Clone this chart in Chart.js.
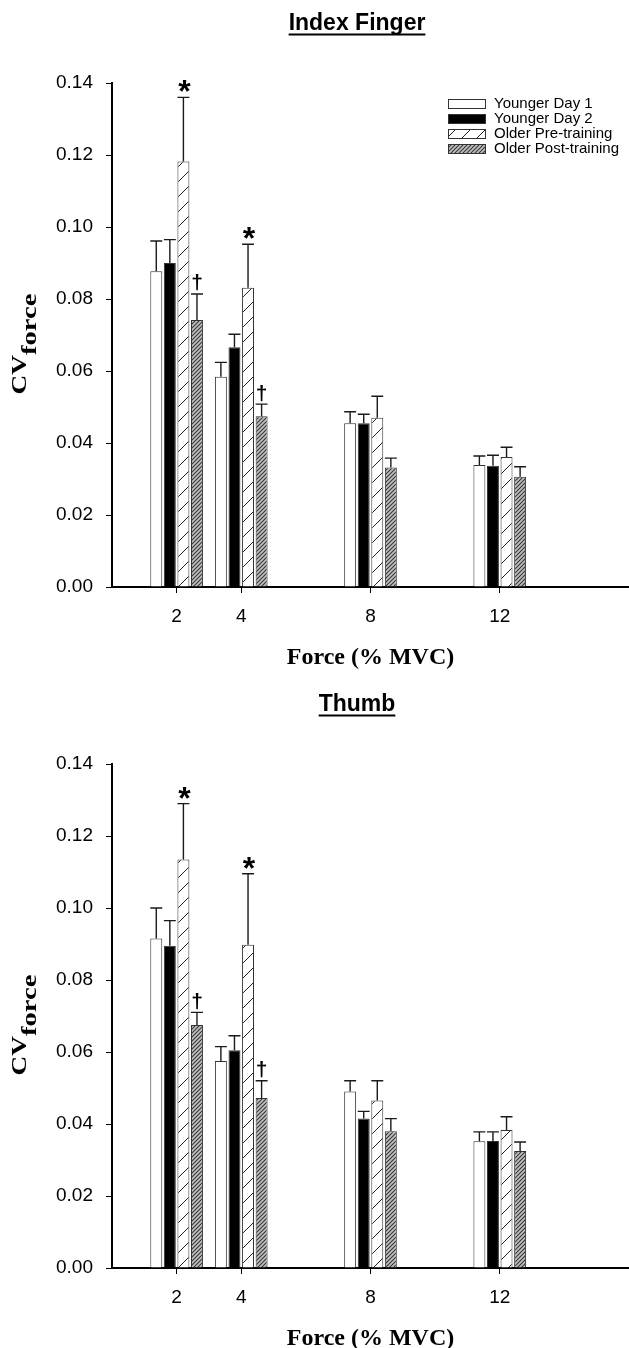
<!DOCTYPE html>
<html>
<head>
<meta charset="utf-8">
<script src="https://cdn.jsdelivr.net/npm/chart.js@4/dist/chart.umd.min.js"></script>
<style>
html,body{margin:0;padding:0;background:#fff;overflow:hidden;width:629px;height:1348px}
canvas{display:block}
</style>
</head>
<body>
<canvas id="c1" width="629" height="681"></canvas>
<canvas id="c2" width="629" height="681"></canvas>
<script>
// ---------- data ----------
const forceLevels = [2, 4, 8, 12];
const seriesNames = ['Younger Day 1', 'Younger Day 2', 'Older Pre-training', 'Older Post-training'];
const yTickValues = [0, 0.02, 0.04, 0.06, 0.08, 0.10, 0.12, 0.14];

// Index finger: means and SD (upper error bar length)
const indexYoungDay1   = [0.0877, 0.0584, 0.0455, 0.0339];
const indexYoungDay2   = [0.0900, 0.0666, 0.0455, 0.0337];
const indexOlderPre    = [0.1182, 0.0831, 0.0470, 0.0361];
const indexOlderPost   = [0.0742, 0.0474, 0.0332, 0.0306];
const indexYoungDay1SD = [0.0084, 0.0040, 0.0032, 0.0025];
const indexYoungDay2SD = [0.0065, 0.0036, 0.0025, 0.0029];
const indexOlderPreSD  = [0.0178, 0.0121, 0.0060, 0.0027];
const indexOlderPostSD = [0.0072, 0.0034, 0.0026, 0.0028];

// Thumb
const thumbYoungDay1   = [0.0915, 0.0575, 0.0490, 0.0352];
const thumbYoungDay2   = [0.0895, 0.0605, 0.0415, 0.0353];
const thumbOlderPre    = [0.1135, 0.0898, 0.0465, 0.0383];
const thumbOlderPost   = [0.0675, 0.0472, 0.0380, 0.0325];
const thumbYoungDay1SD = [0.0085, 0.0040, 0.0030, 0.0026];
const thumbYoungDay2SD = [0.0070, 0.0040, 0.0020, 0.0025];
const thumbOlderPreSD  = [0.0155, 0.0197, 0.0055, 0.0037];
const thumbOlderPostSD = [0.0035, 0.0048, 0.0035, 0.0025];

// significance marks: series index, force-level index, symbol
const indexMarks = [[2, 0, '*'], [2, 1, '*'], [3, 0, '\u2020'], [3, 1, '\u2020']];
const thumbMarks = [[2, 0, '*'], [2, 1, '*'], [3, 0, '\u2020'], [3, 1, '\u2020']];

// ---------- styles ----------
function hatch(size, bg, fg, lw) {
  const c = document.createElement('canvas');
  c.width = size; c.height = size;
  const g = c.getContext('2d');
  g.fillStyle = bg; g.fillRect(0, 0, size, size);
  g.strokeStyle = fg; g.lineWidth = lw;
  g.beginPath();
  g.moveTo(-1, size + 1); g.lineTo(size + 1, -1);
  g.moveTo(-1, 1); g.lineTo(1, -1);
  g.moveTo(size - 1, size + 1); g.lineTo(size + 1, size - 1);
  g.stroke();
  return g.createPattern(c, 'repeat');
}
const fills = ['#ffffff', '#000000', hatch(15, '#ffffff', '#222222', 1), hatch(4, '#c0c0c0', '#363636', 1.1)];
const SANS = "'Liberation Sans', Arial, sans-serif";
const SERIF = "'Liberation Serif', 'Times New Roman', serif";

function centerGlyph(ctx, txt, cx, cy) {
  const m = ctx.measureText(txt);
  const a = m.actualBoundingBoxAscent, d = m.actualBoundingBoxDescent;
  ctx.fillText(txt, cx, cy + (a - d) / 2);
}

function makePlugin(title, sds, marks, showLegend) {
  return {
    id: 'extras',
    afterDatasetsDraw(chart) {
      const ctx = chart.ctx, ys = chart.scales.y;
      ctx.save();
      // error bars
      chart.data.datasets.forEach((ds, i) => {
        const meta = chart.getDatasetMeta(i);
        meta.data.forEach((bar, j) => {
          const top = ys.getPixelForValue(ds.data[j].y + sds[i][j]);
          const half = bar.width / 2;
          ctx.strokeStyle = '#1a1a1a';
          ctx.lineWidth = 1.4;
          ctx.beginPath();
          ctx.moveTo(bar.x, bar.y);
          ctx.lineTo(bar.x, top);
          ctx.moveTo(bar.x - half, top);
          ctx.lineTo(bar.x + half, top);
          ctx.stroke();
        });
      });
      // significance marks
      ctx.fillStyle = '#000';
      ctx.textAlign = 'center';
      ctx.textBaseline = 'alphabetic';
      marks.forEach(([s, g, sym]) => {
        const bar = chart.getDatasetMeta(s).data[g];
        const top = ys.getPixelForValue(chart.data.datasets[s].data[g].y + sds[s][g]);
        if (sym === '*') {
          ctx.font = 'bold 32px ' + SANS;
          centerGlyph(ctx, sym, bar.x + 1, top - 11);
        } else {
          ctx.font = 'bold 21px ' + SANS;
          centerGlyph(ctx, sym, bar.x, top - 11);
        }
      });
      ctx.restore();
    },
    afterDraw(chart) {
      const ctx = chart.ctx, area = chart.chartArea;
      ctx.save();
      // panel title, underlined
      ctx.font = 'bold 23px ' + SANS;
      ctx.fillStyle = '#000';
      ctx.textAlign = 'center';
      ctx.textBaseline = 'middle';
      const tx = 357, ty = 24;
      ctx.fillText(title, tx, ty);
      const tw = ctx.measureText(title).width;
      ctx.fillRect(tx - tw / 2, ty + 9.5, tw, 2);
      // y axis title CV(force)
      ctx.translate(26, (area.top + area.bottom) / 2 + 9);
      ctx.rotate(-Math.PI / 2);
      ctx.scale(1.3, 1);
      ctx.textAlign = 'left';
      ctx.textBaseline = 'alphabetic';
      ctx.font = 'bold 21px ' + SERIF;
      const w1 = ctx.measureText('CV').width;
      ctx.font = 'bold 22px ' + SERIF;
      const w2 = ctx.measureText('force').width;
      const x0 = -(w1 + w2) / 2;
      ctx.font = 'bold 21px ' + SERIF;
      ctx.fillText('CV', x0, 0);
      ctx.font = 'bold 22px ' + SERIF;
      ctx.fillText('force', x0 + w1, 10);
      ctx.restore();
      // legend
      if (showLegend) {
        ctx.save();
        ctx.font = '15px ' + SANS;
        ctx.textBaseline = 'middle';
        ctx.textAlign = 'left';
        chart.data.datasets.forEach((ds, i) => {
          const cy = 104 + i * 15;
          ctx.fillStyle = ds.backgroundColor;
          ctx.fillRect(448, cy - 5, 38, 10);
          ctx.strokeStyle = '#333';
          ctx.lineWidth = 1;
          ctx.strokeRect(448.5, cy - 4.5, 37, 9);
          ctx.fillStyle = '#000';
          ctx.fillText(ds.label, 494, cy);
        });
        ctx.restore();
      }
    }
  };
}

function makeChart(id, series, sds, marks, title, showLegend) {
  const datasets = series.map((vals, i) => ({
    label: seriesNames[i],
    data: forceLevels.map((x, j) => ({ x: x, y: vals[j] })),
    backgroundColor: fills[i],
    borderColor: '#333333',
    borderWidth: 1,
    categoryPercentage: 0.84,
    barPercentage: 0.88
  }));
  return new Chart(document.getElementById(id), {
    type: 'bar',
    data: { datasets },
    options: {
      responsive: false,
      animation: false,
      events: [],
      layout: { padding: { top: 83, left: 0, right: 0, bottom: 0 } },
      plugins: { legend: { display: false }, tooltip: { enabled: false }, title: { display: false } },
      scales: {
        x: {
          type: 'linear', min: 0, max: 16, offset: false,
          afterBuildTicks: s => { s.ticks = forceLevels.map(v => ({ value: v })); },
          afterFit: s => { s.height = 681 - 587; },
          grid: { drawOnChartArea: false, drawTicks: true, tickLength: 6, color: '#000', lineWidth: 1, offset: false },
          border: { display: true, color: '#000', width: 2 },
          ticks: { color: '#000', font: { family: SANS, size: 19 }, padding: 12, maxRotation: 0, autoSkip: false },
          title: { display: true, text: 'Force (% MVC)', color: '#000', font: { family: SERIF, size: 24, weight: 'bold' }, padding: { top: 0, bottom: 9 } }
        },
        y: {
          min: 0, max: 0.14,
          afterBuildTicks: s => { s.ticks = yTickValues.map(v => ({ value: v })); },
          afterFit: s => { s.width = 112; },
          grid: { drawOnChartArea: false, drawTicks: true, tickLength: 6, color: '#000', lineWidth: 1 },
          border: { display: true, color: '#000', width: 2 },
          ticks: { color: '#000', font: { family: SANS, size: 19 }, padding: 13, callback: v => v.toFixed(2) }
        }
      }
    },
    plugins: [makePlugin(title, sds, marks, showLegend)]
  });
}

makeChart('c1',
  [indexYoungDay1, indexYoungDay2, indexOlderPre, indexOlderPost],
  [indexYoungDay1SD, indexYoungDay2SD, indexOlderPreSD, indexOlderPostSD],
  indexMarks, 'Index Finger', true);
makeChart('c2',
  [thumbYoungDay1, thumbYoungDay2, thumbOlderPre, thumbOlderPost],
  [thumbYoungDay1SD, thumbYoungDay2SD, thumbOlderPreSD, thumbOlderPostSD],
  thumbMarks, 'Thumb', false);
</script>
</body>
</html>
